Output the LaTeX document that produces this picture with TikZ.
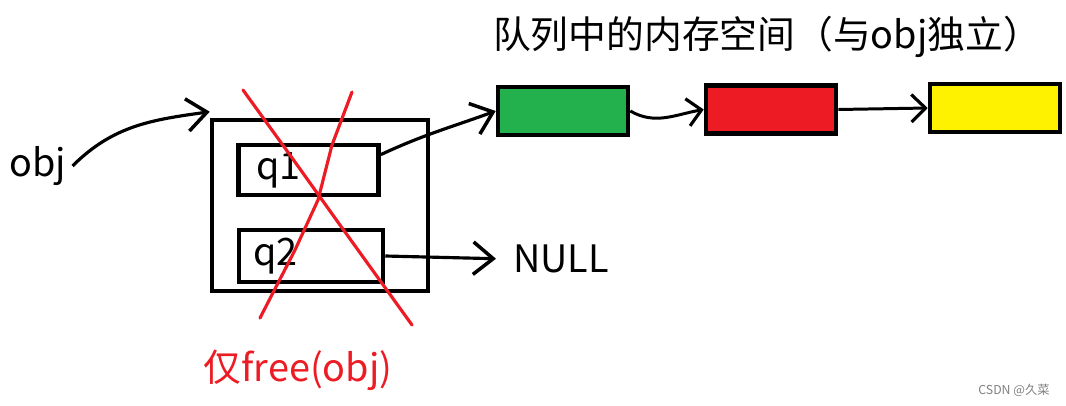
\documentclass[tikz,border=0pt]{standalone}
\usepackage{fontspec}
\setmainfont{Noto Sans CJK SC}
\usetikzlibrary{arrows.meta,calc}

\definecolor{cellgreen}{RGB}{34,177,76}
\definecolor{cellred}{RGB}{237,28,36}
\definecolor{cellyellow}{RGB}{255,242,0}

\tikzset{
	bigtext/.style={font=\fontsize{21.5}{25}\selectfont},
	cell/.style={draw,line width=2.6pt,minimum width=2.6cm,minimum height=0.96cm,inner sep=0pt},
	field/.style={draw,line width=2.6pt,minimum height=1cm,inner sep=0pt,bigtext},
	link/.style={line width=1.7pt,-{Straight Barb[length=2.8mm,width=5.5mm,line width=1.8pt]}},
	biglink/.style={line width=1.8pt,-{Straight Barb[length=4mm,width=6.5mm,line width=2pt]}},
	cross/.style={cellred,line width=1.8pt,line cap=round,line join=round}
}

\begin{document}
\begin{tikzpicture}[x=0.02cm,y=0.02cm]
	\useasboundingbox (0,0) rectangle (1066,-406);
	
	%struct obj
	\node[draw,line width=2.6pt,minimum width=4.32cm,minimum height=3.42cm] (objbox) at (320,-205.5) {};
	\node[field,minimum width=2.8cm,text width=2.1cm,align=left] (q1) at (308.5,-170) {q1};
	\node[field,minimum width=2.88cm,minimum height=1.04cm,text width=2.3cm,align=left] (q2) at (311,-256) {q2};
	\node[bigtext] (obj) at (38,-166) {obj};
	\node[bigtext] (null) at (561,-259) {NULL};
	
	%queue memory
	\node[bigtext] (title) at (767,-37) {队列中的内存空间（与obj独立）};
	\node[cell,fill=cellgreen] (green) at (563,-111) {};
	\node[cell,fill=cellred] (red) at (771,-109.5) {};
	\node[cell,fill=cellyellow] (yellow) at (995,-108) {};
	
	%pointers
	\draw[biglink] (obj.east) to[out=45,in=188] ($(objbox.north west)+(0,6)$);
	\draw[biglink] (q1.12) to[out=25,in=200] (green.west);
	\draw[biglink,shorten >=0.22cm] (q2.east) -- (null.west);
	\draw[link] (green.east) to[out=-30,in=190] (red.west);
	\draw[link] (red.east) -- (yellow.west);
	
	%free only obj
	\draw[cross] (243,-90) -- (290,-155) -- (340,-225) -- (412,-325);
	\draw[cross] (352,-92) -- (332,-145) -- (318,-200) -- (295,-250) -- (260,-318);
	\node[bigtext,text=cellred] (caption) at (298,-370) {仅free(obj)};
	
	\node[font=\fontsize{7}{8}\selectfont,text=gray] (mark) at (1014,-390) {CSDN @久菜};
\end{tikzpicture}
\end{document}
